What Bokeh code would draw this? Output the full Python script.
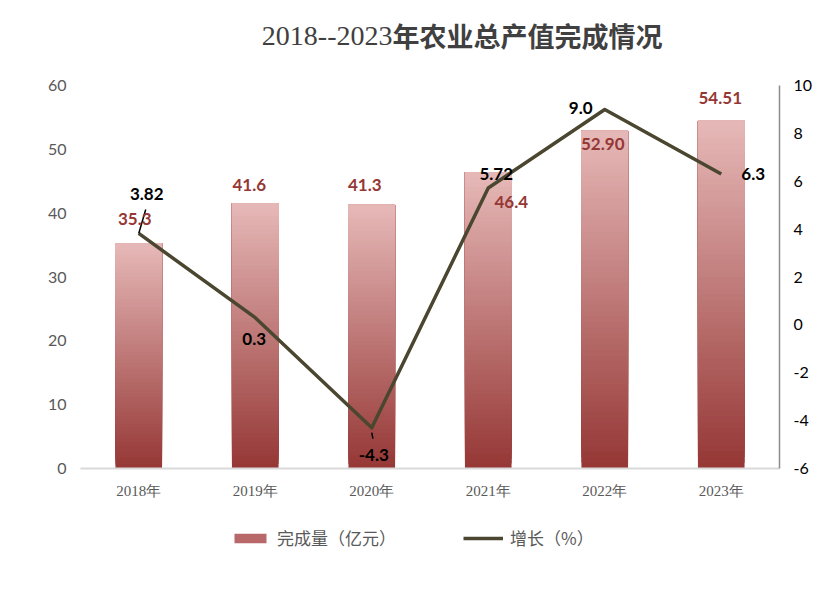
from bokeh.plotting import figure
from bokeh.layouts import column
from bokeh.models import (FactorRange, Range1d, LinearAxis, Legend, LegendItem,
                          Label, FixedTicker)
from bokeh.core.properties import value
from bokeh.embed import file_html
from bokeh.resources import INLINE

# ---- data ----
years = ["2018年", "2019年", "2020年", "2021年", "2022年", "2023年"]
output = [35.3, 41.6, 41.3, 46.4, 52.90, 54.51]
output_labels = ["35.3", "41.6", "41.3", "46.4", "52.90", "54.51"]
growth = [3.82, 0.3, -4.3, 5.72, 9.0, 6.3]
growth_labels = ["3.82", "0.3", "-4.3", "5.72", "9.0", "6.3"]
left_ticks = [0, 10, 20, 30, 40, 50, 60]
right_ticks = [-6, -4, -2, 0, 2, 4, 6, 8, 10]
title_num = "2018--2023"
title_cn = "年农业总产值完成情况"
legend_bar = "完成量（亿元）"
legend_line = "增长（%）"

# ---- styles / label offsets (px; positive dy = upwards) ----
bar_dx = [-4, -6, -7, 23, -2, -1]
bar_dy = [24, 18, 20, -30, -13, 23]
line_dx = [8, -1, 2, 8, -24, 32]
line_dy = [39, -21, -27, 14, 1, 0]
DARK = (0x95, 0x37, 0x35)
LIGHT = (0xE6, 0xB9, 0xB8)
LINE_COLOR = "#4b4630"
N = 60
W = 831


def blank_fig(h):
    f = figure(width=W, height=h, x_range=Range1d(0, 1), y_range=Range1d(0, 1),
               output_backend="svg", toolbar_location=None, title=None,
               x_axis_type=None, y_axis_type=None, min_border=0)
    f.xgrid.visible = False
    f.ygrid.visible = False
    f.outline_line_color = None
    return f


# ---- title ----
tf = blank_fig(72)
tf.add_layout(Label(x=312, y=37, x_units="screen", y_units="screen", text=title_num,
                    text_font="Liberation Serif", text_font_size="28px",
                    text_color="#404040", text_baseline="middle", text_align="right"))
tf.add_layout(Label(x=312, y=37, x_units="screen", y_units="screen", text=title_cn,
                    text_font="Noto Sans CJK SC", text_font_style="bold",
                    text_font_size="27px", text_color="#404040",
                    text_baseline="middle", text_align="left"))

# ---- main chart ----
p = figure(width=W, height=436, x_range=FactorRange(*years),
           y_range=Range1d(0, 60), output_backend="svg", toolbar_location=None,
           min_border_left=80, min_border_right=52, min_border_top=13,
           min_border_bottom=40, title=None)
p.extra_y_ranges = {"g": Range1d(-6, 10)}
p.xgrid.visible = False
p.ygrid.visible = False
p.outline_line_color = None

# gradient bars: overlapping slices from each level up to the bar top
xs, bots, tops, cols = [], [], [], []
for yr, v in zip(years, output):
    for k in range(N):
        t = (k + 0.5) / N
        c = tuple(int(round(DARK[j] + (LIGHT[j] - DARK[j]) * t)) for j in range(3))
        xs.append(yr)
        bots.append(v * k / N)
        tops.append(v)
        cols.append("#%02x%02x%02x" % c)
p.vbar(x=xs, bottom=bots, top=tops, width=0.4, fill_color=cols, line_color=None)

p.line(years, growth, y_range_name="g", line_color=LINE_COLOR,
       line_width=3.5, line_join="round")

# leader lines
p.segment(x0=[years[0]], y0=[growth[0]], x1=[(years[0], 0.06)], y1=[growth[0] + 1.0],
          y_range_name="g", line_color="black", line_width=1.5)
p.segment(x0=[years[2]], y0=[growth[2] - 0.2], x1=[(years[2], 0.01)], y1=[growth[2] - 0.45],
          y_range_name="g", line_color="black", line_width=1.5)

p.text(x=years, y=output, text=output_labels, x_offset=bar_dx,
       y_offset=[-d for d in bar_dy], text_align="center", text_baseline="middle",
       text_font=value("Lato"), text_font_style="bold", text_font_size="17px",
       text_color="#953735")
p.text(x=years, y=growth, text=growth_labels, x_offset=line_dx,
       y_offset=[-d for d in line_dy], y_range_name="g", text_align="center",
       text_baseline="middle", text_font=value("Lato"), text_font_style="bold",
       text_font_size="17px", text_color="black")

# axes
ly = p.yaxis[0]
ly.ticker = FixedTicker(ticks=left_ticks)
ly.axis_line_color = None
ly.major_tick_line_color = None
ly.minor_tick_line_color = None
ly.major_label_text_color = "#595959"
ly.major_label_text_font = "Lato"
ly.major_label_text_font_size = "16px"
ly.major_label_standoff = 8

ry = LinearAxis(y_range_name="g", ticker=FixedTicker(ticks=right_ticks))
ry.axis_line_color = "#8c8c8c"
ry.axis_line_width = 1.5
ry.major_tick_line_color = None
ry.minor_tick_line_color = None
ry.major_label_text_color = "black"
ry.major_label_text_font = "Lato"
ry.major_label_text_font_size = "16px"
ry.major_label_standoff = 8
ry.major_label_overrides = {t: str(t) for t in right_ticks}
p.add_layout(ry, "right")

bx = p.xaxis[0]
bx.axis_line_color = "#d9d9d9"
bx.axis_line_width = 2
bx.major_tick_line_color = None
bx.minor_tick_line_color = None
bx.major_label_text_color = "#595959"
bx.major_label_text_font = "Liberation Serif"
bx.major_label_text_font_size = "15px"
bx.major_label_standoff = 8

# ---- legend (swatch-only renderers of zero size) ----
lf = blank_fig(87)
bar_dummy = lf.vbar(x=[0.5], bottom=[0.5], top=[0.5], width=0.0,
                    fill_color="#b9686a", line_color=None)
line_dummy = lf.line(x=[0.5, 0.5], y=[0.5, 0.5], line_color=LINE_COLOR,
                     line_width=3.5, line_alpha=1.0)
legend = Legend(items=[LegendItem(label=legend_bar, renderers=[bar_dummy]),
                       LegendItem(label=legend_line, renderers=[line_dummy])],
                orientation="horizontal", location=(150, 45),
                label_text_font="Noto Sans CJK SC", label_text_font_size="17px",
                label_text_color="#595959", glyph_width=40, glyph_height=12,
                spacing=67, label_standoff=7, border_line_color=None,
                background_fill_alpha=0, padding=5, margin=0)
lf.add_layout(legend, "center")

layout = column(tf, p, lf, spacing=0)
open("out.html", "w").write(file_html(layout, INLINE))
